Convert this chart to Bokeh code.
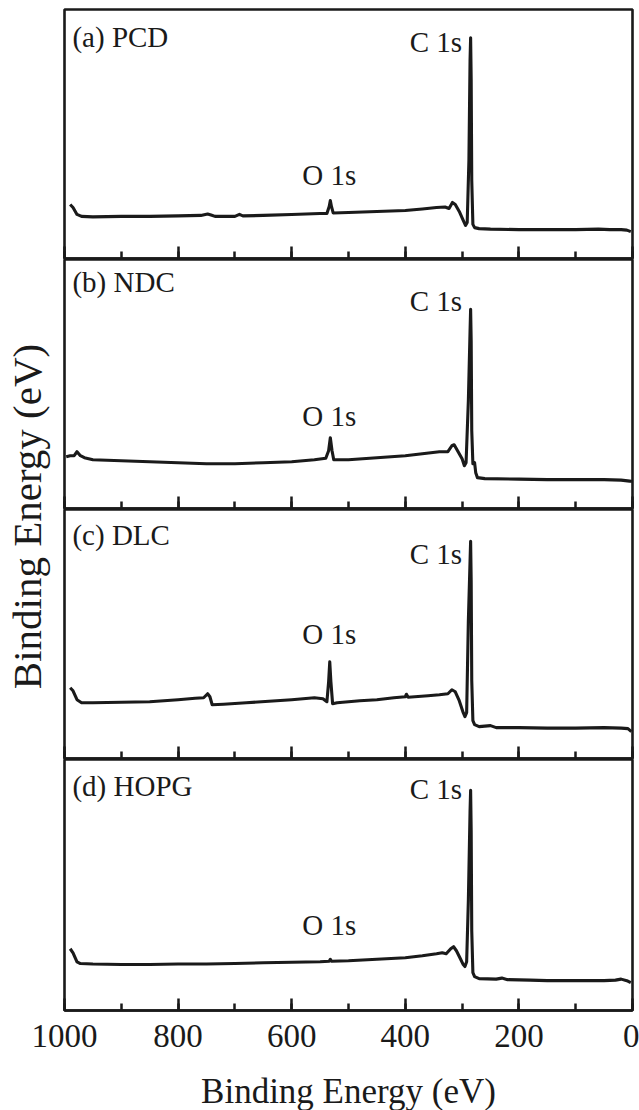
from bokeh.plotting import figure
from bokeh.layouts import row, column
from bokeh.models import Range1d, Label, SingleIntervalTicker, FixedTicker
from bokeh.embed import file_html
from bokeh.resources import INLINE

# ---------------- data (binding energy in eV, intensity in a.u.) ----------------
be_a = [990, 985, 978, 970, 950, 900, 850, 800, 760, 748, 742, 735, 700, 692, 686, 650, 600, 550, 538,
        534, 532, 530, 527, 500, 450, 400, 370, 345, 330, 323, 317, 312, 305, 298, 294, 291, 288, 286,
        285, 284, 283, 281, 278, 270, 250, 200, 150, 100, 60, 40, 20, 10, 3]
int_a = [21.7, 20.5, 17.7, 16.9, 16.7, 16.9, 16.9, 17.1, 17.3, 17.9, 17.5, 16.9, 16.9, 17.7, 17.1, 17.3,
         17.7, 18.1, 18.1, 20.9, 23.3, 20.9, 18.3, 18.5, 18.9, 19.3, 19.9, 20.5, 20.7, 20.1, 22.5, 21.7,
         18.9, 15.3, 13.3, 14.5, 39.4, 79.5, 88.6, 71.7, 31.3, 13.7, 12.4, 12.0, 11.8, 11.6, 11.6, 11.6,
         11.8, 11.6, 11.6, 11.4, 10.8]

be_b = [997, 990, 983, 978, 972, 965, 950, 900, 850, 800, 750, 700, 650, 600, 560, 540, 535, 532, 529,
        526, 500, 450, 400, 370, 340, 325, 318, 314, 308, 300, 296, 293, 289, 286, 285, 284, 283, 281,
        278, 276, 273, 260, 200, 150, 100, 50, 20, 5, 1]
int_b = [20.8, 21.2, 21.2, 22.8, 21.2, 20.4, 19.6, 19.2, 18.8, 18.4, 18.0, 18.0, 18.4, 18.8, 19.6, 20.2,
         23.2, 28.4, 23.2, 19.6, 19.6, 20.4, 21.2, 22.0, 22.8, 22.8, 25.2, 25.6, 23.2, 20.0, 17.2, 18.4,
         43.2, 71.2, 80.0, 67.2, 31.2, 18.0, 18.4, 14.4, 12.4, 12.0, 11.8, 11.6, 11.6, 11.6, 11.4, 11.0,
         10.8]

be_c = [990, 985, 978, 970, 950, 900, 850, 800, 770, 755, 748, 744, 740, 720, 680, 640, 600, 560, 545,
        538, 535, 533, 531, 528, 520, 480, 450, 420, 400, 398, 395, 360, 340, 325, 318, 312, 305, 298,
        295, 292, 289, 286, 285, 284, 283, 281, 278, 270, 250, 240, 200, 150, 100, 50, 20, 8, 2]
int_c = [28.4, 27.2, 23.6, 22.4, 22.4, 22.6, 22.8, 23.6, 24.2, 24.4, 26.0, 24.8, 21.6, 21.8, 22.4, 23.0,
         23.6, 24.4, 24.0, 22.8, 30.8, 38.8, 30.8, 22.0, 22.4, 23.2, 23.6, 24.4, 24.8, 25.8, 24.6, 25.2,
         25.6, 26.0, 27.6, 26.8, 23.2, 18.4, 16.8, 18.4, 55.2, 79.2, 87.2, 71.2, 31.2, 15.2, 13.6, 12.8,
         13.2, 12.4, 12.4, 12.2, 12.2, 12.4, 12.2, 12.0, 10.8]

be_d = [990, 985, 978, 972, 950, 900, 850, 800, 750, 700, 650, 600, 550, 534, 532, 530, 500, 450, 400,
        370, 345, 335, 328, 320, 315, 310, 303, 298, 295, 292, 289, 286, 285, 284, 283, 281, 278, 270,
        240, 230, 220, 180, 150, 100, 50, 30, 20, 10, 3]
int_d = [24.6, 23.0, 19.4, 18.7, 18.5, 18.3, 18.3, 18.5, 18.5, 18.7, 19.0, 19.2, 19.4, 19.6, 20.4, 19.6,
         19.8, 20.4, 21.0, 21.8, 22.6, 23.0, 22.6, 24.6, 25.4, 23.8, 20.6, 18.3, 17.5, 19.4, 43.7, 79.4,
         87.7, 71.4, 31.7, 15.1, 13.5, 12.7, 12.5, 12.9, 12.3, 12.1, 11.9, 11.9, 11.9, 12.1, 12.5, 11.9,
         11.1]

panel_names = ["(a) PCD", "(b) NDC", "(c) DLC", "(d) HOPG"]
peak_names = ["C 1s", "O 1s"]
peak_energies = [285, 532]          # eV
x_label = "Binding Energy (eV)"
y_label = "Binding Energy (eV)"

series_be = [be_a, be_b, be_c, be_d]
series_int = [int_a, int_b, int_c, int_d]

# ---------------- layout / style ----------------
FONT = "Liberation Serif"
INK = "#1a1a1a"
LABEL_W = 58
frame_heights = [249, 249, 249, 251]
name_y = [88.8, 90.8, 89.6, 89.3]      # vertical position of panel name (a.u.)
c1s_y = [87.1, 83.2, 82.0, 88.1]       # vertical position of "C 1s" text (a.u.)
o1s_y = [33.7, 37.2, 50.0, 34.1]       # vertical position of "O 1s" text (a.u.)

x_range = Range1d(1000, 0)
panels = []
for i in range(4):
    last = (i == 3)
    p = figure(frame_width=568, frame_height=frame_heights[i], x_range=x_range,
               y_range=Range1d(0, 100), output_backend="svg", toolbar_location=None,
               min_border_left=(LABEL_W + 6) if last else 6,
               min_border_right=7 if last else 4,
               min_border_top=9 if i == 0 else 0,
               min_border_bottom=0 if last else 1)
    p.yaxis.visible = False
    p.grid.visible = False
    p.outline_line_color = INK
    p.outline_line_width = 2.6
    p.outline_line_alpha = 1.0
    ax = p.xaxis[0]
    ax.ticker = SingleIntervalTicker(interval=200, num_minor_ticks=2)
    ax.axis_line_color = INK
    ax.axis_line_width = 2.6
    ax.major_tick_in = 12
    ax.major_tick_out = 0
    ax.major_tick_line_color = INK
    ax.major_tick_line_width = 2.5
    ax.minor_tick_in = 7
    ax.minor_tick_out = 0
    ax.minor_tick_line_color = INK
    ax.minor_tick_line_width = 2.5
    if last:
        ax.major_label_text_font = FONT
        ax.major_label_text_font_size = "33px"
        ax.major_label_text_color = INK
        ax.major_label_standoff = 14
        ax.axis_label = x_label
        ax.axis_label_text_font = FONT
        ax.axis_label_text_font_size = "35px"
        ax.axis_label_text_font_style = "normal"
        ax.axis_label_text_color = INK
        ax.axis_label_standoff = 22
    else:
        ax.major_label_text_font_size = "0px"
        ax.major_label_text_color = None
        ax.major_label_standoff = 0

    p.line(series_be[i], series_int[i], line_color=INK, line_width=3.1, line_join="round")

    p.add_layout(Label(x=986, y=name_y[i], text=panel_names[i], text_font=FONT,
                       text_font_size="29px", text_color=INK, text_align="left",
                       text_baseline="middle"))
    p.add_layout(Label(x=peak_energies[0] + 15, y=c1s_y[i], text=peak_names[0], text_font=FONT,
                       text_font_size="29px", text_color=INK, text_align="right",
                       text_baseline="middle"))
    p.add_layout(Label(x=peak_energies[1] + 2, y=o1s_y[i], text=peak_names[1], text_font=FONT,
                       text_font_size="29px", text_color=INK, text_align="center",
                       text_baseline="middle"))
    panels.append(p)

# y-axis title, placed beside the upper three panels (centred at ~516 px)
top_h = 9 + 249 + 1 + 249 + 1 + 249 + 1
lab = figure(width=LABEL_W, height=top_h, x_range=Range1d(0, 1), y_range=Range1d(0, 1),
             output_backend="svg", toolbar_location=None,
             min_border_left=8, min_border_right=0, min_border_top=2 * 516 - top_h,
             min_border_bottom=0)
lab.xaxis.visible = False
lab.grid.visible = False
lab.outline_line_color = None
ya = lab.yaxis[0]
ya.ticker = FixedTicker(ticks=[])
ya.axis_label = y_label
ya.axis_label_text_font = FONT
ya.axis_label_text_font_size = "41px"
ya.axis_label_text_font_style = "normal"
ya.axis_label_text_color = INK
ya.axis_label_standoff = 0
ya.axis_line_color = None
ya.major_tick_line_color = None
ya.minor_tick_line_color = None
ya.major_label_text_font_size = "0px"
ya.major_label_text_color = None
ya.major_label_standoff = 0

layout = column(row(lab, column(*panels[:3])), panels[3])
open("out.html", "w").write(file_html(layout, INLINE))
